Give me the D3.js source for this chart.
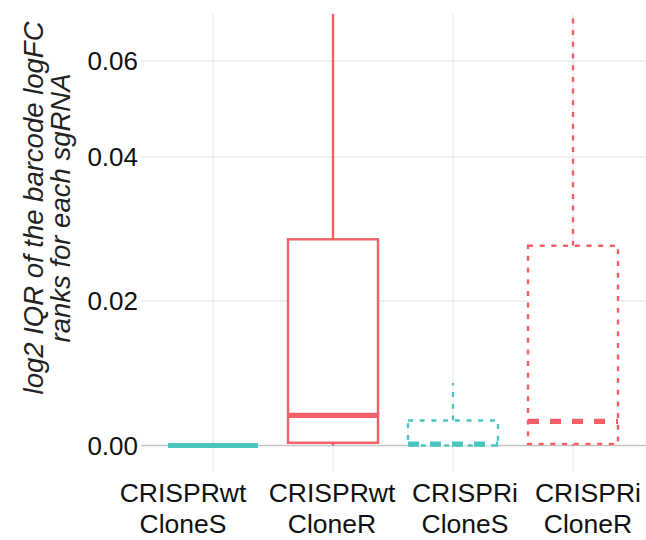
<!DOCTYPE html>
<html>
<head>
<meta charset="utf-8">
<script src="https://cdn.jsdelivr.net/npm/d3@7"></script>
<style>
  body { margin: 0; background: #fff; }
  svg text { font-family: "Liberation Sans", Arial, Helvetica, sans-serif; fill: #111; }
</style>
</head>
<body>
<svg id="chart" width="646" height="540"></svg>
<script>
// data
const groups = ["CRISPRwt CloneS", "CRISPRwt CloneR", "CRISPRi CloneS", "CRISPRi CloneR"];
const labelLines = [["CRISPRwt", "CloneS"], ["CRISPRwt", "CloneR"], ["CRISPRi", "CloneS"], ["CRISPRi", "CloneR"]];
const clone = ["S", "R", "S", "R"];
const method = ["wt", "wt", "i", "i"];
const whiskerLow = [0, 0, 0, 0];
const q1 = [0, 0.00038, 0, 0.0002];
const median = [0, 0.00417, 0.0002, 0.00333];
const q3 = [0, 0.02857, 0.00347, 0.02768];
const whiskerHigh = [0, 0.1, 0.00865, 0.1];
const yBreaks = [0, 0.02, 0.04, 0.06, 0.08];
const yTickLabels = ["0.00", "0.02", "0.04", "0.06"];

const svg = d3.select('#chart');
const panel = { left: 141, right: 645, top: 14, bottom: 446 };
const cloneColor = { S: '#4cc4bf', R: '#f65f68' };
// label nudges seen in the picture
const labelShift = [-30, -1, 12, 15];

const x = d3.scaleBand()
    .domain(groups)
    .range([panel.left, panel.right])
    .paddingOuter(0.1)
    .paddingInner(0);

// y axis is not evenly spaced in the original, so a piecewise scale
const y = d3.scaleLinear()
    .domain(yBreaks)
    .range([445.5, 301, 157, 61, -35]);

const cx = g => x(g) + x.bandwidth() / 2;
const boxW = x.bandwidth() * 0.75;

svg.append('clipPath').attr('id', 'clip')
    .append('rect')
    .attr('x', panel.left).attr('y', panel.top)
    .attr('width', panel.right - panel.left)
    .attr('height', panel.bottom - panel.top + 4);

// grid
const grid = svg.append('g');
grid.selectAll('.hgrid')
    .data(yBreaks.slice(1, 4))
    .enter()
    .append('line')
    .attr('x1', panel.left).attr('x2', 646)
    .attr('y1', d => y(d)).attr('y2', d => y(d))
    .attr('stroke', '#e0e0e0').attr('stroke-width', 1);

grid.selectAll('.vgrid')
    .data(groups)
    .enter()
    .append('line')
    .attr('x1', d => cx(d)).attr('x2', d => cx(d))
    .attr('y1', panel.top).attr('y2', 472)
    .attr('stroke', '#e4e4e4').attr('stroke-width', 1);

// zero line
grid.append('line')
    .attr('x1', panel.left).attr('x2', 646)
    .attr('y1', y(0)).attr('y2', y(0))
    .attr('stroke', '#c4c4c4').attr('stroke-width', 1.6);

// y tick labels
svg.selectAll('.ytick')
    .data(yTickLabels)
    .enter()
    .append('text')
    .attr('x', 138)
    .attr('y', (d, i) => y(yBreaks[i]))
    .attr('dy', '0.36em')
    .attr('text-anchor', 'end')
    .style('font-size', '26px')
    .text(d => d);

// y title
const ytitle = svg.append('text')
    .attr('transform', 'translate(0,208) rotate(-90)')
    .attr('text-anchor', 'middle')
    .style('font-size', '27.5px')
    .style('font-style', 'italic')
    .style('fill', '#222');
ytitle.append('tspan').attr('x', 0).attr('y', 43).text('log2 IQR of the barcode logFC');
ytitle.append('tspan').attr('x', 0).attr('y', 70).text('ranks for each sgRNA');

// x labels
const xl = svg.selectAll('.xlab')
    .data(groups)
    .enter()
    .append('text')
    .attr('text-anchor', 'middle')
    .style('font-size', '26.5px');
xl.each(function(d, i) {
    const t = d3.select(this);
    labelLines[i].forEach((s, k) => {
        t.append('tspan')
            .attr('x', cx(d) + labelShift[i])
            .attr('y', 502 + k * 31)
            .text(s);
    });
});

// boxes
const boxes = svg.append('g').attr('clip-path', 'url(#clip)')
    .selectAll('.box')
    .data(groups.map((g, i) => ({ g, i })))
    .enter()
    .append('g');

const dash = d => method[d.i] === 'i' ? '5,6.7' : null;
const medDash = d => method[d.i] === 'i' ? '11,11' : null;

boxes.append('line')
    .attr('x1', d => cx(d.g)).attr('x2', d => cx(d.g))
    .attr('y1', d => y(q3[d.i])).attr('y2', d => y(whiskerHigh[d.i]))
    .attr('stroke', d => cloneColor[clone[d.i]])
    .attr('stroke-width', 2.4)
    .attr('stroke-dasharray', dash);

boxes.append('line')
    .attr('x1', d => cx(d.g)).attr('x2', d => cx(d.g))
    .attr('y1', d => y(q1[d.i])).attr('y2', d => y(whiskerLow[d.i]))
    .attr('stroke', d => cloneColor[clone[d.i]])
    .attr('stroke-width', 2.4)
    .attr('stroke-dasharray', dash);

boxes.append('rect')
    .attr('x', d => cx(d.g) - boxW / 2)
    .attr('width', boxW)
    .attr('y', d => y(q3[d.i]))
    .attr('height', d => y(q1[d.i]) - y(q3[d.i]))
    .attr('fill', 'white')
    .attr('stroke', d => cloneColor[clone[d.i]])
    .attr('stroke-width', 2.4)
    .attr('stroke-dasharray', dash);

boxes.append('line')
    .attr('x1', d => cx(d.g) - boxW / 2).attr('x2', d => cx(d.g) + boxW / 2)
    .attr('y1', d => y(median[d.i])).attr('y2', d => y(median[d.i]))
    .attr('stroke', d => cloneColor[clone[d.i]])
    .attr('stroke-width', 5.2)
    .attr('stroke-dasharray', medDash);
</script>
</body>
</html>
